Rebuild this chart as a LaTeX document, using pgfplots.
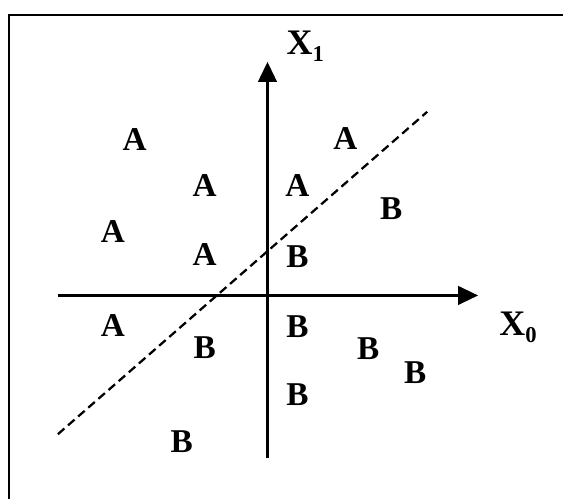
\documentclass[border=0pt]{standalone}
\usepackage{pgfplots}
\pgfplotsset{compat=1.18}
\usepackage{fontspec}
\setmainfont{Liberation Serif}
\usetikzlibrary{arrows.meta}
\begin{document}
\begin{tikzpicture}
\begin{axis}[
  scale only axis, width=423pt, height=375pt,
  xmin=0, xmax=564, ymin=0, ymax=500, y dir=reverse,
  hide axis, clip=false,
]
% bounding corners
\addplot[draw=none] coordinates {(0,0) (564,500)};
% frame (left and top edges visible)
\addplot[black, line width=1.6pt] coordinates {(9,500) (9,15) (564,15)};
% axes with arrows
\addplot[black, line width=1.6pt, -{Triangle[length=15pt,width=14pt]}] coordinates {(58,296) (479,296)};
\addplot[black, line width=1.6pt, -{Triangle[length=15pt,width=14pt]}] coordinates {(268,459) (268,62)};
% decision boundary
\addplot[black, line width=1.7pt, dash pattern=on 6.5pt off 3.6pt] coordinates {(58,435) (428,112)};
% class A
\addplot[only marks, mark=none, nodes near coords, point meta=explicit symbolic,
  every node near coord/.append style={anchor=center, inner sep=0pt, font=\fontsize{25}{25}\selectfont\bfseries}]
  coordinates {(135,140)[A] (205,186)[A] (113,232)[A] (205,255)[A] (113,326)[A] (346,139)[A] (298,186)[A]};
% class B
\addplot[only marks, mark=none, nodes near coords, point meta=explicit symbolic,
  every node near coord/.append style={anchor=center, inner sep=0pt, font=\fontsize{25}{25}\selectfont\bfseries}]
  coordinates {(392,209)[B] (298,257)[B] (298,327)[B] (205,348)[B] (369,349)[B] (416,373)[B] (298,395)[B] (182,442)[B]};
% axis labels
\addplot[only marks, mark=none, nodes near coords, point meta=explicit symbolic,
  every node near coord/.append style={anchor=base west, inner sep=0pt, font=\fontsize{27}{27}\selectfont\bfseries}]
  coordinates {(287,55)[X\raisebox{-5pt}{\fontsize{17}{17}\selectfont 1}] (500,336)[X\raisebox{-5pt}{\fontsize{17}{17}\selectfont 0}]};
\end{axis}
\end{tikzpicture}
\end{document}
